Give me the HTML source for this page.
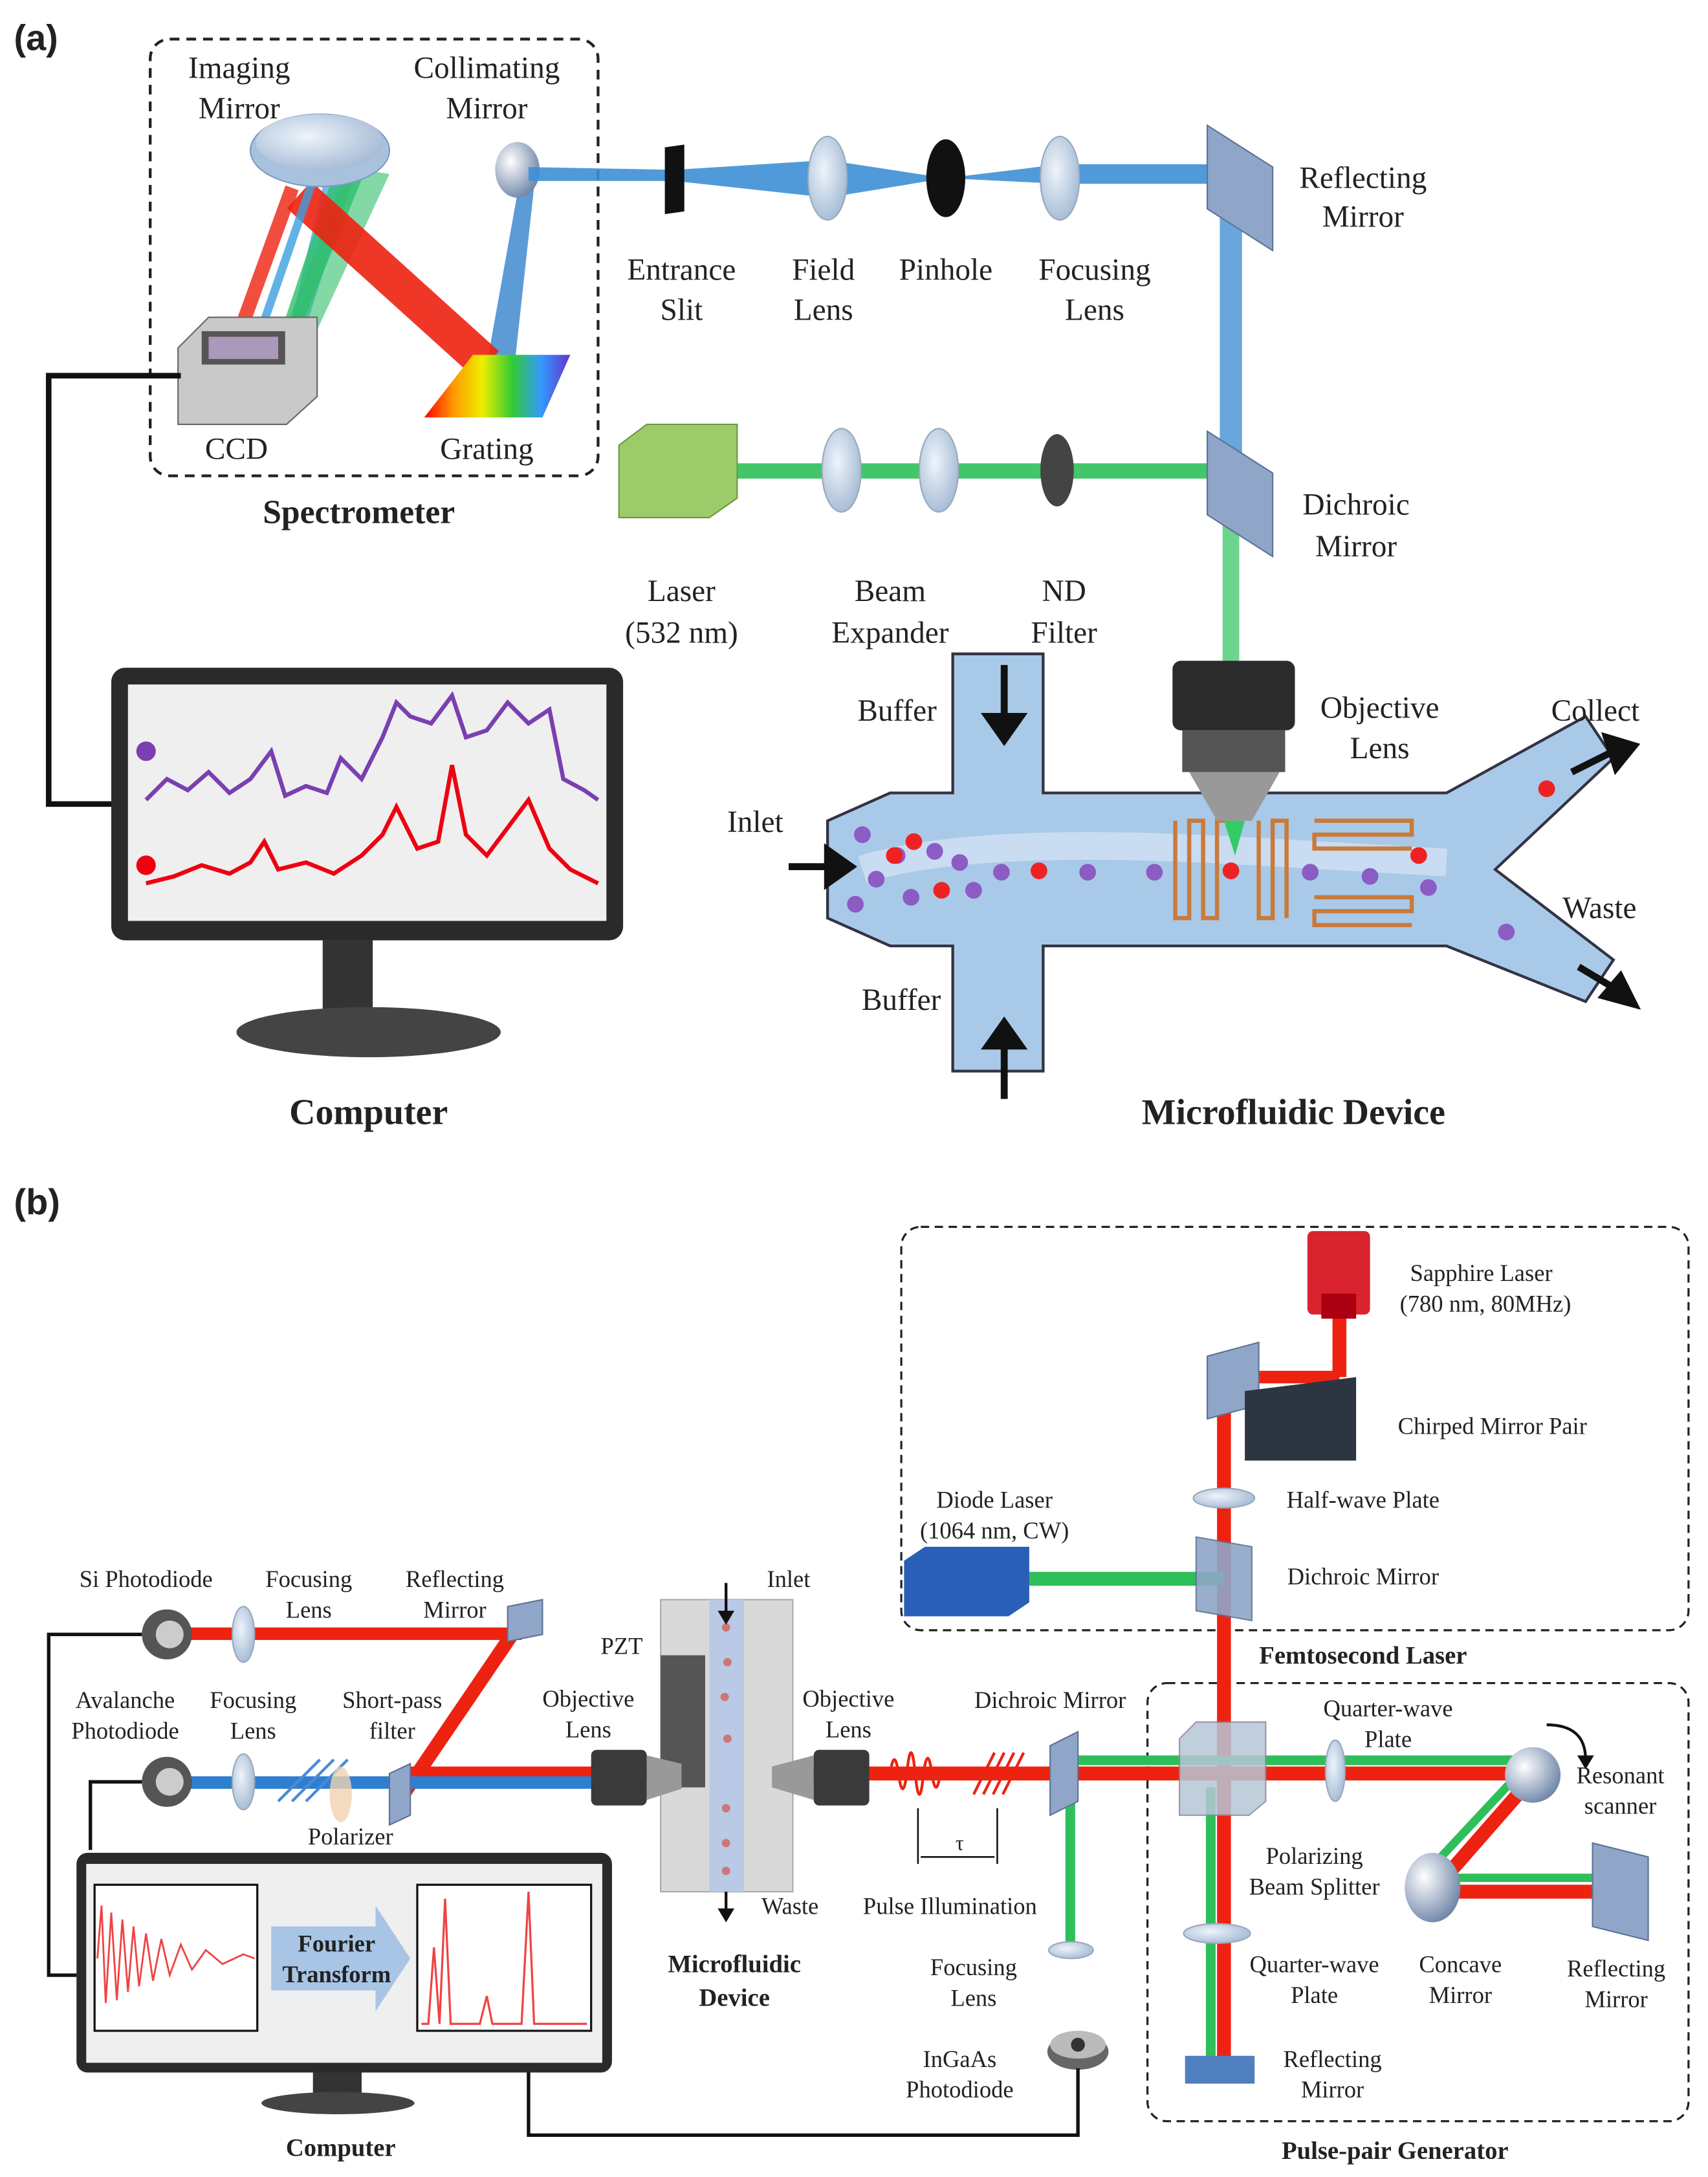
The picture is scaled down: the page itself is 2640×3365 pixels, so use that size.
<!DOCTYPE html>
<html><head><meta charset="utf-8"><style>
html,body{margin:0;padding:0;background:#fff}
svg{display:block}
text{font-family:"Liberation Serif",serif;fill:#222}
.b{font-weight:bold}
</style></head><body>
<svg width="2640" height="3365" viewBox="0 0 1228 1565" xmlns="http://www.w3.org/2000/svg">
<defs>
<linearGradient id="rb" x1="0" y1="0" x2="1" y2="0">
<stop offset="0" stop-color="#f00"/><stop offset=".2" stop-color="#f90"/><stop offset=".4" stop-color="#ee0"/><stop offset=".6" stop-color="#3c3"/><stop offset=".8" stop-color="#39f"/><stop offset="1" stop-color="#63c"/></linearGradient>
<radialGradient id="lens" cx=".4" cy=".4" r=".7"><stop offset="0" stop-color="#eef4fb"/><stop offset="1" stop-color="#9fb6d2"/></radialGradient>
<radialGradient id="sph" cx=".35" cy=".35" r=".7"><stop offset="0" stop-color="#fff"/><stop offset="1" stop-color="#6f86a8"/></radialGradient>
</defs>
<text x="10" y="36" font-size="26" class="b" style="font-family:'Liberation Sans',sans-serif">(a)</text>
<rect x="108" y="28" width="322" height="314" rx="14" fill="none" stroke="#222" stroke-width="2" stroke-dasharray="7,5"/>
<!-- beams spectrometer -->
<polygon points="375,122 385,125 370,262 350,262" fill="#4a90d0" opacity=".9"/>
<polygon points="240,100 260,110 215,250 205,250" fill="#3aa0e0" opacity=".7"/>
<polygon points="245,110 270,105 210,250 198,250" fill="#2fbf6a" opacity=".8"/>
<polygon points="250,120 280,125 222,250 200,250" fill="#2fbf6a" opacity=".6"/>
<path d="M215,140 L350,262" stroke="#e21" stroke-width="26" opacity=".9"/>
<path d="M210,135 L170,245" stroke="#e21" stroke-width="10" opacity=".8"/>
<path d="M230,115 L185,245" stroke="#3aa0e0" stroke-width="6" opacity=".8"/>
<ellipse cx="230" cy="108" rx="50" ry="26" fill="#a8c2de" stroke="#7f9cbf"/>
<ellipse cx="230" cy="102" rx="46" ry="20" fill="url(#lens)"/>
<ellipse cx="372" cy="122" rx="16" ry="20" fill="url(#sph)"/>
<!-- CCD -->
<polygon points="128,250 150,228 228,228 228,285 206,305 128,305" fill="#c9c9c9" stroke="#666"/>
<rect x="145" y="238" width="60" height="24" fill="#555"/>
<rect x="150" y="242" width="50" height="16" fill="#a9b"/>
<!-- grating -->
<polygon points="305,300 340,255 410,255 390,300" fill="url(#rb)"/>
<text x="172" y="56" font-size="22" text-anchor="middle">Imaging</text>
<text x="172" y="85" font-size="22" text-anchor="middle">Mirror</text>
<text x="350" y="56" font-size="22" text-anchor="middle">Collimating</text>
<text x="350" y="85" font-size="22" text-anchor="middle">Mirror</text>
<text x="170" y="330" font-size="22" text-anchor="middle">CCD</text>
<text x="350" y="330" font-size="22" text-anchor="middle">Grating</text>
<text x="258" y="376" font-size="24" class="b" text-anchor="middle">Spectrometer</text>
<!-- blue path -->
<polygon points="380,120 485,122 595,115 680,128 762,118 890,118 890,132 762,132 680,128 595,142 485,130 380,130" fill="#3d8fd6" opacity=".9"/>
<rect x="877" y="125" width="16" height="225" fill="#4f97d6" opacity=".85"/>
<rect x="478" y="105" width="14" height="48" fill="#111" transform="skewY(-8) translate(0,68)"/>
<ellipse cx="595" cy="128" rx="14" ry="30" fill="url(#lens)" stroke="#9ab"/>
<ellipse cx="680" cy="128" rx="14" ry="28" fill="#111"/>
<ellipse cx="762" cy="128" rx="14" ry="30" fill="url(#lens)" stroke="#9ab"/>
<polygon points="868,90 915,120 915,180 868,150" fill="#8fa6c8" stroke="#5d7396"/>
<text x="490" y="201" font-size="22" text-anchor="middle">Entrance</text>
<text x="490" y="230" font-size="22" text-anchor="middle">Slit</text>
<text x="592" y="201" font-size="22" text-anchor="middle">Field</text>
<text x="592" y="230" font-size="22" text-anchor="middle">Lens</text>
<text x="680" y="201" font-size="22" text-anchor="middle">Pinhole</text>
<text x="787" y="201" font-size="22" text-anchor="middle">Focusing</text>
<text x="787" y="230" font-size="22" text-anchor="middle">Lens</text>
<text x="980" y="135" font-size="22" text-anchor="middle">Reflecting</text>
<text x="980" y="163" font-size="22" text-anchor="middle">Mirror</text>
<!-- green path -->
<rect x="520" y="333" width="372" height="11" fill="#2fbf5a" opacity=".9"/>
<rect x="879" y="340" width="12" height="135" fill="#52cc7a" opacity=".85"/>
<polygon points="445,320 465,305 530,305 530,358 510,372 445,372" fill="#9ccc6a" stroke="#6a9a40"/>
<ellipse cx="605" cy="338" rx="14" ry="30" fill="url(#lens)" stroke="#9ab"/>
<ellipse cx="675" cy="338" rx="14" ry="30" fill="url(#lens)" stroke="#9ab"/>
<ellipse cx="760" cy="338" rx="12" ry="26" fill="#444"/>
<polygon points="868,310 915,340 915,400 868,370" fill="#8fa6c8" stroke="#5d7396"/>
<text x="975" y="370" font-size="22" text-anchor="middle">Dichroic</text>
<text x="975" y="400" font-size="22" text-anchor="middle">Mirror</text>
<text x="490" y="432" font-size="22" text-anchor="middle">Laser</text>
<text x="490" y="462" font-size="22" text-anchor="middle">(532 nm)</text>
<text x="640" y="432" font-size="22" text-anchor="middle">Beam</text>
<text x="640" y="462" font-size="22" text-anchor="middle">Expander</text>
<text x="765" y="432" font-size="22" text-anchor="middle">ND</text>
<text x="765" y="462" font-size="22" text-anchor="middle">Filter</text>
<!-- computer a -->
<path d="M130,270 H35 V578 H80" fill="none" stroke="#111" stroke-width="4"/>
<rect x="80" y="480" width="368" height="196" rx="10" fill="#2a2a2a"/>
<rect x="92" y="492" width="344" height="170" fill="#efefef"/>
<rect x="232" y="676" width="36" height="52" fill="#333"/>
<ellipse cx="265" cy="742" rx="95" ry="18" fill="#444"/>
<polyline fill="none" stroke="#7a3fb0" stroke-width="3" points="105,575 120,560 135,568 150,555 165,570 180,560 195,540 205,572 220,565 235,570 245,545 260,560 275,530 285,505 295,515 310,520 325,500 335,530 350,525 365,505 380,520 395,510 405,560 420,568 430,575"/>
<polyline fill="none" stroke="#e01" stroke-width="3" points="105,635 125,630 145,622 165,628 180,620 190,605 200,625 220,620 240,628 260,615 275,600 285,580 300,610 315,605 325,550 335,600 350,615 365,595 380,575 395,610 410,625 430,635"/>
<circle cx="105" cy="540" r="7" fill="#7a3fb0"/><circle cx="105" cy="622" r="7" fill="#e01"/>
<text x="265" y="808" font-size="26" class="b" text-anchor="middle">Computer</text>
<!-- microfluidic -->
<path d="M595,590 L640,570 L685,570 L685,470 L750,470 L750,570 L1040,570 L1140,515 L1160,545 L1075,625 L1160,690 L1140,720 L1040,680 L750,680 L750,770 L685,770 L685,680 L640,680 L595,660 Z" fill="#a9c9e8" stroke="#334" stroke-width="2"/>
<path d="M620,625 Q700,600 900,612 L1040,620" stroke="#dfe9f6" stroke-width="20" fill="none" opacity=".6"/>
<g fill="none" stroke="#c97a3a" stroke-width="3">
<path d="M845,590 v70 h10 v-70 h10 v70 h10 v-70 h10"/>
<path d="M905,590 v70 h10 v-70 h10 v70"/>
<path d="M945,590 h70 v10 h-70 v10 h70"/>
<path d="M945,645 h70 v10 h-70 v10 h70"/>
</g>
<g fill="#8a5cc4"><circle cx="620" cy="600" r="6"/><circle cx="630" cy="632" r="6"/><circle cx="645" cy="615" r="6"/><circle cx="655" cy="645" r="6"/><circle cx="672" cy="612" r="6"/><circle cx="690" cy="620" r="6"/><circle cx="700" cy="640" r="6"/><circle cx="720" cy="627" r="6"/><circle cx="782" cy="627" r="6"/><circle cx="830" cy="627" r="6"/><circle cx="942" cy="627" r="6"/><circle cx="985" cy="630" r="6"/><circle cx="1027" cy="638" r="6"/><circle cx="1083" cy="670" r="6"/><circle cx="615" cy="650" r="6"/></g>
<g fill="#e22"><circle cx="643" cy="615" r="6"/><circle cx="657" cy="605" r="6"/><circle cx="677" cy="640" r="6"/><circle cx="747" cy="626" r="6"/><circle cx="885" cy="626" r="6"/><circle cx="1020" cy="615" r="6"/><circle cx="1112" cy="567" r="6"/></g>
<g stroke="#111" stroke-width="5" fill="#111">
<path d="M722,478 v40"/><polygon points="710,515 734,515 722,532"/>
<path d="M722,790 v-40"/><polygon points="710,752 734,752 722,735"/>
<path d="M567,623 h30"/><polygon points="595,611 595,635 612,623"/>
<path d="M1130,555 l30,-15"/><polygon points="1155,530 1175,536 1162,552"/>
<path d="M1135,695 l25,15"/><polygon points="1153,716 1175,722 1165,702"/>
</g>
<rect x="843" y="475" width="88" height="50" rx="6" fill="#2b2b2b"/>
<rect x="850" y="525" width="74" height="30" fill="#555"/>
<polygon points="855,555 920,555 900,590 875,590" fill="#999"/>
<polygon points="880,590 895,590 888,615" fill="#3c6"/>
<text x="645" y="518" font-size="22" text-anchor="middle">Buffer</text>
<text x="648" y="726" font-size="22" text-anchor="middle">Buffer</text>
<text x="543" y="598" font-size="22" text-anchor="middle">Inlet</text>
<text x="1147" y="518" font-size="22" text-anchor="middle">Collect</text>
<text x="1150" y="660" font-size="22" text-anchor="middle">Waste</text>
<text x="992" y="516" font-size="22" text-anchor="middle">Objective</text>
<text x="992" y="545" font-size="22" text-anchor="middle">Lens</text>
<text x="930" y="808" font-size="26" class="b" text-anchor="middle">Microfluidic Device</text>

<!-- (b) -->
<text x="10" y="873" font-size="26" class="b" style="font-family:'Liberation Sans',sans-serif">(b)</text>
<rect x="648" y="882" width="566" height="290" rx="14" fill="none" stroke="#222" stroke-width="1.5" stroke-dasharray="6,4"/>
<rect x="825" y="1210" width="389" height="315" rx="14" fill="none" stroke="#222" stroke-width="1.5" stroke-dasharray="6,4"/>
<text x="980" y="1196" font-size="18" class="b" text-anchor="middle">Femtosecond Laser</text>
<text x="1003" y="1552" font-size="18" class="b" text-anchor="middle">Pulse-pair Generator</text>
<!-- red beams -->
<rect x="958" y="940" width="10" height="50" fill="#e21"/>
<path d="M963,990 L880,990" stroke="#e21" stroke-width="9" fill="none"/>
<rect x="875" y="985" width="10" height="510" fill="#e21"/>
<rect x="290" y="1270" width="810" height="10" fill="#e21"/>
<path d="M1100,1280 L1030,1360 L1160,1360" stroke="#e21" stroke-width="10" fill="none"/>
<path d="M1095,1272 L1022,1350 L1160,1350" stroke="#2fbf5a" stroke-width="6" fill="none"/>
<rect x="735" y="1130" width="145" height="10" fill="#2fbf5a"/>
<rect x="768" y="1262" width="330" height="7" fill="#2fbf5a"/>
<rect x="766" y="1270" width="7" height="130" fill="#2fbf5a"/>
<rect x="867" y="1285" width="7" height="205" fill="#2fbf5a"/>
<rect x="120" y="1170" width="255" height="9" fill="#e21"/>
<path d="M375,1165 L290,1290" stroke="#e21" stroke-width="10"/>
<rect x="120" y="1277" width="310" height="9" fill="#2f7fd0"/>
<!-- sapphire -->
<rect x="940" y="885" width="45" height="60" rx="4" fill="#d9232f"/>
<rect x="950" y="930" width="25" height="18" fill="#a01"/>
<text x="1065" y="921" font-size="17" text-anchor="middle">Sapphire Laser</text>
<text x="1068" y="943" font-size="17" text-anchor="middle">(780 nm, 80MHz)</text>
<polygon points="868,975 905,965 905,1010 868,1020" fill="#8fa6c8" stroke="#5d7396"/>
<polygon points="895,1000 975,990 975,1050 895,1050" fill="#2d3540"/>
<text x="1073" y="1031" font-size="17" text-anchor="middle">Chirped Mirror Pair</text>
<ellipse cx="880" cy="1077" rx="22" ry="7" fill="url(#lens)" stroke="#9ab"/>
<text x="980" y="1084" font-size="17" text-anchor="middle">Half-wave Plate</text>
<polygon points="860,1105 900,1112 900,1165 860,1158" fill="#8fa6c8" stroke="#5d7396" opacity=".9"/>
<text x="980" y="1139" font-size="17" text-anchor="middle">Dichroic Mirror</text>
<polygon points="650,1122 665,1112 740,1112 740,1152 725,1162 650,1162" fill="#2a5fb8"/>
<text x="715" y="1084" font-size="17" text-anchor="middle">Diode Laser</text>
<text x="715" y="1106" font-size="17" text-anchor="middle">(1064 nm, CW)</text>
<!-- PBS -->
<polygon points="848,1250 860,1238 910,1238 910,1295 898,1305 848,1305" fill="#b7c6d6" opacity=".85" stroke="#889"/>
<text x="945" y="1340" font-size="17" text-anchor="middle">Polarizing</text>
<text x="945" y="1362" font-size="17" text-anchor="middle">Beam Splitter</text>
<ellipse cx="960" cy="1273" rx="7" ry="22" fill="url(#lens)" stroke="#9ab"/>
<text x="998" y="1234" font-size="17" text-anchor="middle">Quarter-wave</text>
<text x="998" y="1256" font-size="17" text-anchor="middle">Plate</text>
<circle cx="1102" cy="1276" r="20" fill="url(#sph)"/>
<path d="M1112,1240 Q1140,1240 1140,1265" fill="none" stroke="#111" stroke-width="2"/>
<polygon points="1134,1262 1146,1262 1140,1272" fill="#111"/>
<text x="1165" y="1282" font-size="17" text-anchor="middle">Resonant</text>
<text x="1165" y="1304" font-size="17" text-anchor="middle">scanner</text>
<ellipse cx="1030" cy="1357" rx="20" ry="25" fill="url(#sph)"/>
<polygon points="1145,1325 1185,1335 1185,1395 1145,1385" fill="#8fa6c8" stroke="#5d7396"/>
<text x="1050" y="1418" font-size="17" text-anchor="middle">Concave</text>
<text x="1050" y="1440" font-size="17" text-anchor="middle">Mirror</text>
<text x="1162" y="1421" font-size="17" text-anchor="middle">Reflecting</text>
<text x="1162" y="1443" font-size="17" text-anchor="middle">Mirror</text>
<ellipse cx="875" cy="1390" rx="24" ry="7" fill="url(#lens)" stroke="#9ab"/>
<text x="945" y="1418" font-size="17" text-anchor="middle">Quarter-wave</text>
<text x="945" y="1440" font-size="17" text-anchor="middle">Plate</text>
<rect x="852" y="1478" width="50" height="20" fill="#4f7fbf"/>
<text x="958" y="1486" font-size="17" text-anchor="middle">Reflecting</text>
<text x="958" y="1508" font-size="17" text-anchor="middle">Mirror</text>
<!-- dichroic b -->
<polygon points="755,1255 775,1245 775,1295 755,1305" fill="#8fa6c8" stroke="#5d7396"/>
<text x="755" y="1228" font-size="17" text-anchor="middle">Dichroic Mirror</text>
<ellipse cx="770" cy="1402" rx="16" ry="6" fill="url(#lens)" stroke="#9ab"/>
<text x="700" y="1420" font-size="17" text-anchor="middle">Focusing</text>
<text x="700" y="1442" font-size="17" text-anchor="middle">Lens</text>
<ellipse cx="775" cy="1475" rx="22" ry="13" fill="#666"/>
<ellipse cx="775" cy="1470" rx="20" ry="10" fill="#bbb"/>
<circle cx="775" cy="1470" r="5" fill="#333"/>
<text x="690" y="1486" font-size="17" text-anchor="middle">InGaAs</text>
<text x="690" y="1508" font-size="17" text-anchor="middle">Photodiode</text>
<path d="M775,1487 V1535 H380 V1490" fill="none" stroke="#111" stroke-width="2.5"/>
<!-- pulses -->
<path d="M640,1275 q3,-20 6,0 q3,22 6,0 q3,-30 6,0 q3,30 6,0 q3,-22 6,0 q3,20 6,0" stroke="#e21" stroke-width="2" fill="none"/>
<g stroke="#e21" stroke-width="2"><path d="M700,1290 l15,-30"/><path d="M707,1290 l15,-30"/><path d="M714,1290 l15,-30"/><path d="M721,1290 l15,-30"/></g>
<path d="M660,1300 v40 M717,1300 v40 M662,1335 h53" stroke="#111" stroke-width="1.2"/>
<text x="690" y="1330" font-size="15" text-anchor="middle">τ</text>
<text x="683" y="1376" font-size="17" text-anchor="middle">Pulse Illumination</text>
<!-- objectives & chip -->
<rect x="475" y="1150" width="95" height="210" fill="#d9d9d9" stroke="#aaa"/>
<rect x="510" y="1150" width="25" height="210" fill="#b9c9e6"/>
<g fill="#c77"><circle cx="522" cy="1170" r="3"/><circle cx="523" cy="1195" r="3"/><circle cx="521" cy="1220" r="3"/><circle cx="523" cy="1250" r="3"/><circle cx="522" cy="1300" r="3"/><circle cx="522" cy="1325" r="3"/><circle cx="522" cy="1345" r="3"/></g>
<rect x="475" y="1190" width="32" height="95" fill="#555"/>
<path d="M522,1138 v25 M522,1360 v20" stroke="#111" stroke-width="2"/>
<polygon points="516,1158 528,1158 522,1168" fill="#111"/><polygon points="516,1372 528,1372 522,1382" fill="#111"/>
<rect x="425" y="1258" width="40" height="40" rx="4" fill="#3a3a3a"/>
<polygon points="465,1262 490,1268 490,1286 465,1294" fill="#999"/>
<rect x="585" y="1258" width="40" height="40" rx="4" fill="#3a3a3a"/>
<polygon points="585,1262 555,1270 555,1285 585,1294" fill="#999"/>
<text x="447" y="1189" font-size="17" text-anchor="middle">PZT</text>
<text x="567" y="1141" font-size="17" text-anchor="middle">Inlet</text>
<text x="568" y="1376" font-size="17" text-anchor="middle">Waste</text>
<text x="423" y="1227" font-size="17" text-anchor="middle">Objective</text>
<text x="423" y="1249" font-size="17" text-anchor="middle">Lens</text>
<text x="610" y="1227" font-size="17" text-anchor="middle">Objective</text>
<text x="610" y="1249" font-size="17" text-anchor="middle">Lens</text>
<text x="528" y="1418" font-size="18" class="b" text-anchor="middle">Microfluidic</text>
<text x="528" y="1442" font-size="18" class="b" text-anchor="middle">Device</text>
<!-- left detectors -->
<circle cx="120" cy="1175" r="18" fill="#555"/><circle cx="122" cy="1175" r="10" fill="#ccc"/>
<circle cx="120" cy="1281" r="18" fill="#555"/><circle cx="122" cy="1281" r="10" fill="#ccc"/>
<ellipse cx="175" cy="1175" rx="8" ry="20" fill="url(#lens)" stroke="#9ab"/>
<ellipse cx="175" cy="1281" rx="8" ry="20" fill="url(#lens)" stroke="#9ab"/>
<polygon points="365,1155 390,1150 390,1175 365,1180" fill="#8fa6c8" stroke="#5d7396"/>
<g stroke="#4a8ad6" stroke-width="2"><path d="M200,1295 l30,-30"/><path d="M210,1295 l30,-30"/><path d="M220,1295 l30,-30"/></g>
<ellipse cx="245" cy="1290" rx="8" ry="20" fill="#f1d2b0" opacity=".8"/>
<polygon points="280,1275 295,1268 295,1305 280,1312" fill="#8fa6c8" stroke="#5d7396"/>
<text x="105" y="1141" font-size="17" text-anchor="middle">Si Photodiode</text>
<text x="222" y="1141" font-size="17" text-anchor="middle">Focusing</text>
<text x="222" y="1163" font-size="17" text-anchor="middle">Lens</text>
<text x="327" y="1141" font-size="17" text-anchor="middle">Reflecting</text>
<text x="327" y="1163" font-size="17" text-anchor="middle">Mirror</text>
<text x="90" y="1228" font-size="17" text-anchor="middle">Avalanche</text>
<text x="90" y="1250" font-size="17" text-anchor="middle">Photodiode</text>
<text x="182" y="1228" font-size="17" text-anchor="middle">Focusing</text>
<text x="182" y="1250" font-size="17" text-anchor="middle">Lens</text>
<text x="282" y="1228" font-size="17" text-anchor="middle">Short-pass</text>
<text x="282" y="1250" font-size="17" text-anchor="middle">filter</text>
<text x="252" y="1326" font-size="17" text-anchor="middle">Polarizer</text>
<!-- computer b -->
<path d="M102,1175 H35 V1420 H55 M102,1281 H65 V1330" fill="none" stroke="#111" stroke-width="2.5"/>
<rect x="55" y="1332" width="385" height="158" rx="8" fill="#2a2a2a"/>
<rect x="62" y="1340" width="371" height="143" fill="#efefef"/>
<rect x="68" y="1355" width="117" height="105" fill="#fff" stroke="#111" stroke-width="1.5"/>
<rect x="300" y="1355" width="125" height="105" fill="#fff" stroke="#111" stroke-width="1.5"/>
<polyline fill="none" stroke="#e44" stroke-width="1.3" points="70,1408 73,1370 76,1440 80,1375 84,1438 88,1380 92,1432 96,1385 100,1428 105,1390 110,1424 116,1394 122,1420 130,1398 138,1416 148,1402 160,1412 175,1405 183,1408"/>
<polyline fill="none" stroke="#e44" stroke-width="1.5" points="303,1455 308,1455 312,1400 316,1455 320,1365 324,1455 345,1455 350,1435 354,1455 375,1455 380,1360 384,1455 422,1455"/>
<polygon points="195,1385 270,1385 270,1370 295,1408 270,1446 270,1431 195,1431" fill="#a9c5e5"/>
<text x="242" y="1403" font-size="17" class="b" text-anchor="middle">Fourier</text>
<text x="242" y="1425" font-size="17" class="b" text-anchor="middle">Transform</text>
<rect x="225" y="1490" width="35" height="18" fill="#333"/>
<ellipse cx="243" cy="1512" rx="55" ry="8" fill="#444"/>
<text x="245" y="1550" font-size="18" class="b" text-anchor="middle">Computer</text>
</svg>
</body></html>
